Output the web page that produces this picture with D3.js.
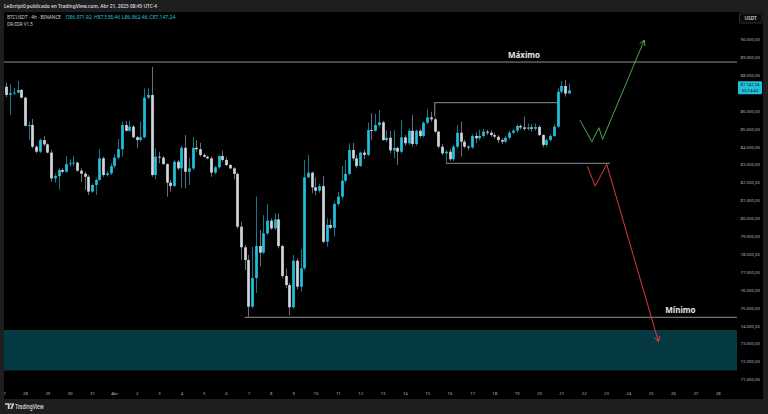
<!DOCTYPE html>
<html><head><meta charset="utf-8">
<script src="https://cdn.jsdelivr.net/npm/d3@7"></script>
<style>body{margin:0;background:#1e1e1e;overflow:hidden}svg{display:block}</style>
</head><body><svg id="c" width="768" height="414"></svg>
<script>
// ---------- DATA ----------
const firstCandle = "2025-03-27T04:00:00Z"; // 4h candles, BTCUSDT Binance
const opens = [87350,86890,86980,87020,87170,86740,85170,85210,84000,83720,84370,84130,83670,82230,82360,82700,82600,83030,83070,83110,82660,82490,82320,81490,81860,82140,83350,82420,82510,82920,83390,83860,85210,84890,85120,84530,84370,84530,86740,86890,82420,83440,83390,83030,81990,81800,83160,82790,83940,82600,82790,83940,83860,83540,83440,83350,82550,82850,83480,83260,82980,82790,82480,79530,78380,77670,75060,76660,78450,78080,79160,79870,79440,79940,78450,76780,76270,75030,77630,76180,77210,82290,82550,81730,81540,81800,78690,79630,79470,80800,81210,82100,82480,83820,83350,82920,83670,83540,84930,84890,85210,85360,84370,84500,83790,83930,83720,84520,84190,84890,84150,84890,84600,85340,85640,85530,84840,84000,83630,83720,83300,84000,84780,84280,84000,83960,84600,84470,84600,84840,84780,84650,84560,84370,84280,84500,84780,84900,85160,85080,85000,85080,85000,85100,84650,84100,84370,84600,85120,87070,87390,86971.92];
const highs = [87580,87500,87280,87670,87220,86790,85400,85550,84090,84470,84600,84190,83820,82510,82790,82790,83480,83300,83480,83160,82790,82600,82420,81950,82230,83860,83440,82650,83070,83570,84430,85400,85440,85440,85210,84600,85400,87260,87260,88470,83910,83720,83480,83070,82140,83260,83260,84040,84650,83350,84530,84370,84220,83630,83500,83440,82920,83540,83780,83410,83030,82850,82550,79810,78510,77950,78410,81210,79350,80180,80800,79990,80280,80280,78510,77200,76400,77950,77760,78270,83260,83540,82600,82290,81920,82360,80000,79940,80930,81490,82920,83260,84190,84220,83540,83720,83850,85340,85870,85830,86050,85450,84930,84880,84930,84000,85490,84650,85000,85770,84950,85000,85420,86100,85950,85640,84900,84150,83820,83880,84090,85210,85400,84390,84100,84700,84780,84950,85000,84950,84900,84780,84650,84480,84600,84900,85000,85250,85250,85680,85300,85250,85300,85200,84700,84450,84700,85250,87250,87670,87730,87538.46];
const lows = [86760,85770,86900,86980,86700,85120,84370,83910,83630,83640,84040,83630,82040,81990,81620,82510,82550,82880,82920,82600,82040,81580,81300,81430,81300,82100,82320,82330,82420,82790,83300,83440,84840,84840,84470,83910,84280,84470,86650,82320,82180,83070,82980,81210,81490,81760,82700,81680,81680,81860,82700,83720,83440,83390,83300,82320,82470,82780,83160,82920,82740,82180,79440,77670,77110,74500,74980,75830,77300,78010,79070,79350,79350,78320,76650,76090,74590,74970,76030,75900,77110,82230,81400,81300,81430,78600,78410,79390,78970,80690,81060,81990,82420,83220,82790,82880,83300,83480,84370,84840,85120,84330,84260,83630,83350,82980,83630,84050,84100,84000,84050,84500,84520,85250,85400,84780,83930,83540,83070,83200,83200,83930,83450,83910,83800,83880,84200,84350,84500,84650,84550,84450,84200,84150,84200,84400,84700,84800,84950,84900,84900,84850,84900,84600,83950,84000,84300,84550,85050,86950,86800,86962.46];
const closes = [86890,86980,87020,87170,86740,85170,85210,84000,83720,84370,84130,83670,82230,82360,82700,82600,83030,83070,83110,82660,82490,82320,81490,81860,82140,83350,82420,82510,82920,83390,83860,85210,84890,85120,84530,84370,84530,86740,86890,82420,83440,83390,83030,81990,81800,83160,82790,83940,82600,82790,83940,83860,83540,83440,83350,82550,82850,83480,83260,82980,82790,82480,79530,78380,77670,75060,76660,78450,78080,79160,79870,79440,79940,78450,76780,76270,75030,77630,76180,77210,82290,82550,81730,81540,81800,78690,79630,79470,80800,81210,82100,82480,83820,83350,82920,83670,83540,84930,84890,85210,85360,84370,84500,83790,83930,83720,84520,84190,84890,84150,84890,84600,85340,85640,85530,84840,84000,83630,83720,83300,84000,84780,84280,84000,83960,84600,84470,84600,84840,84780,84650,84560,84370,84280,84500,84780,84900,85160,85080,85000,85080,85000,85100,84650,84100,84370,84600,85120,87070,87390,86970,87147.24];

// 87.000,00 is hidden behind the last-price label in the reference
const priceTicks = [90000,89000,88000,86000,85000,84000,83000,82000,81000,80000,79000,78000,77000,76000,75000,74000,73000,72000,71000];
const dayTicks = ["2025-03-27","2025-03-28","2025-03-29","2025-03-30","2025-03-31","2025-04-01","2025-04-02","2025-04-03","2025-04-04","2025-04-05","2025-04-06","2025-04-07","2025-04-08","2025-04-09","2025-04-10","2025-04-11","2025-04-12","2025-04-13","2025-04-14","2025-04-15","2025-04-16","2025-04-17","2025-04-18","2025-04-19","2025-04-20","2025-04-21","2025-04-22","2025-04-23","2025-04-24","2025-04-25","2025-04-26","2025-04-27","2025-04-28"];
const dayLabels = ["27","28","29","30","31","Abr","2","3","4","5","6","7","8","9","10","11","12","13","14","15","16","17","18","19","20","21","22","23","24","25","26","27","28"];

// drawings (time, price)
const maxLevel = 88730;
const minLevel = 74470;
const minLevelStart = "2025-04-06T20:00:00Z";
const zone = [71500, 73760];
const rangeTop = {price: 86460, from: "2025-04-15T08:00:00Z", to: "2025-04-20T20:00:00Z", stemTo: 85700};
const rangeBottom = {price: 83070, from: "2025-04-15T20:00:00Z", to: "2025-04-23T04:24:00Z"};
const bullPath = [["2025-04-21T20:00:00Z",85490],["2025-04-22T08:48:00Z",84280],["2025-04-22T16:24:00Z",85060],["2025-04-22T20:24:00Z",84410],["2025-04-24T17:12:00Z",89960]];
const bearPath = [["2025-04-22T04:00:00Z",82920],["2025-04-22T12:24:00Z",81800],["2025-04-23T00:48:00Z",83020],["2025-04-25T08:24:00Z",73100]];
const maxLabel = {text: "Máximo", t: "2025-04-19T08:00:00Z"};
const minLabel = {text: "Mínimo", t: "2025-04-26T08:00:00Z"};
const lastPrice = 87147.24;
const countdown = "03:14:43";

// ---------- RENDER ----------
const svg = d3.select("#c");
const FONT = "'Noto Sans', 'DejaVu Sans', sans-serif";
const upCol = "#22c1db", upWick = "#12788a", dnCol = "#d1d4dc", dnWick = "#6a6d77";

const x = d3.scaleUtc().domain([new Date("2025-03-28T00:00:00Z"), new Date("2025-04-28T00:00:00Z")]).range([25, 717.7]);
const y = d3.scaleLinear().domain([71000, 90000]).range([379.4, 39.3]);

const t0 = new Date(firstCandle);
const candles = opens.map((o,k)=>({t: d3.utcHour.offset(t0, 4*k), o, h: highs[k], l: lows[k], c: closes[k]}));

svg.append("rect").attr("width",768).attr("height",414).attr("fill","#1e1e1e");
svg.append("rect").attr("x",4).attr("y",12).attr("width",759).attr("height",387).attr("fill","#000");

svg.append("defs").append("clipPath").attr("id","pc").append("rect").attr("x",4).attr("y",12).attr("width",733).attr("height",373);
const plot = svg.append("g").attr("clip-path","url(#pc)");

// zone
plot.append("rect").attr("x",4).attr("width",733).attr("y",y(zone[1])).attr("height",y(zone[0])-y(zone[1])).attr("fill","#063a43");
// level lines
plot.append("line").attr("x1",4).attr("x2",737).attr("y1",y(maxLevel)).attr("y2",y(maxLevel)).attr("stroke","#8f929b").attr("stroke-width",1);
plot.append("line").attr("x1",x(new Date(minLevelStart))).attr("x2",737).attr("y1",y(minLevel)).attr("y2",y(minLevel)).attr("stroke","#8f929b").attr("stroke-width",1);
// range box
plot.append("path").attr("d",`M${x(new Date(rangeTop.from))},${y(rangeTop.stemTo)}V${y(rangeTop.price)}H${x(new Date(rangeTop.to))}`).attr("fill","none").attr("stroke","#6e717b").attr("stroke-width",1.3);
plot.append("line").attr("x1",x(new Date(rangeBottom.from))).attr("x2",x(new Date(rangeBottom.to))).attr("y1",y(rangeBottom.price)).attr("y2",y(rangeBottom.price)).attr("stroke","#6e717b").attr("stroke-width",1.3);

// candles
plot.selectAll("line.w").data(candles).join("line").attr("class","w")
  .attr("x1",d=>Math.round(x(d.t))+0.5).attr("x2",d=>Math.round(x(d.t))+0.5)
  .attr("y1",d=>y(d.h)).attr("y2",d=>y(d.l))
  .attr("stroke",d=>d.c>=d.o?upWick:dnWick).attr("stroke-width",1);
plot.selectAll("rect.b").data(candles).join("rect").attr("class","b")
  .attr("x",d=>Math.round(x(d.t))+0.5-1.35).attr("width",2.7)
  .attr("y",d=>y(Math.max(d.o,d.c))).attr("height",d=>Math.max(0.9,Math.abs(y(d.o)-y(d.c))))
  .attr("fill",d=>d.c>=d.o?upCol:dnCol);

// scenario paths
function scenario(pts, col){
  const p = pts.map(d=>[x(new Date(d[0])), y(d[1])]);
  plot.append("path").attr("d",d3.line()(p)).attr("fill","none").attr("stroke",col).attr("stroke-width",1);
  const a = p[p.length-1], b = p[p.length-2];
  const ang = Math.atan2(a[1]-b[1], a[0]-b[0]);
  const L = 6, s = 0.5;
  const h1 = [a[0]-L*Math.cos(ang-s), a[1]-L*Math.sin(ang-s)];
  const h2 = [a[0]-L*Math.cos(ang+s), a[1]-L*Math.sin(ang+s)];
  plot.append("path").attr("d",d3.line()([h1,a,h2])).attr("fill","none").attr("stroke",col).attr("stroke-width",1);
}
scenario(bullPath, "#4aa84a");
scenario(bearPath, "#e0393e");

// labels
plot.append("text").attr("x",x(new Date(maxLabel.t))).attr("y",y(maxLevel)-4).attr("text-anchor","middle")
  .attr("font-family",FONT).attr("font-size",8).attr("font-weight",700).attr("fill","#e6e6e6").text(maxLabel.text);
plot.append("text").attr("x",x(new Date(minLabel.t))).attr("y",y(minLevel)-4).attr("text-anchor","middle")
  .attr("font-family",FONT).attr("font-size",8).attr("font-weight",700).attr("fill","#e6e6e6").text(minLabel.text);

// price axis
const loc = d3.formatLocale({decimal:",", thousands:".", grouping:[3], currency:["",""]});
const fmt = loc.format(",.2f");
const ya = svg.append("g").attr("transform","translate(740.5,0)")
  .call(d3.axisRight(y).tickValues(priceTicks).tickFormat(fmt).tickSize(0).tickPadding(0));
ya.select(".domain").remove();
ya.selectAll("text").attr("font-family",FONT).attr("font-size",4.3).attr("fill","#b2b5be");

// time axis
const xa = svg.append("g").attr("transform","translate(0,389)")
  .call(d3.axisBottom(x).tickValues(dayTicks.map(d=>new Date(d+"T00:00:00Z"))).tickFormat((d,i)=>dayLabels[i]).tickSize(0).tickPadding(3));
xa.select(".domain").remove();
xa.selectAll("text").attr("font-family",FONT).attr("font-size",4.3).attr("fill","#b2b5be");

// left frame cover (clips the first label)
svg.append("rect").attr("x",0).attr("y",12).attr("width",4).attr("height",387).attr("fill","#1e1e1e");

// current price label
const py = y(lastPrice);
svg.append("rect").attr("x",738).attr("y",py-9).attr("width",24).attr("height",13).attr("rx",1).attr("fill","#22c1db");
svg.append("text").attr("x",750).attr("y",py-4.2).attr("text-anchor","middle").attr("font-family",FONT).attr("font-size",4.2).attr("fill","#0b0b0b").text(fmt(lastPrice));
svg.append("text").attr("x",750).attr("y",py+2).attr("text-anchor","middle").attr("font-family",FONT).attr("font-size",4.2).attr("fill","#0b0b0b").text(countdown);

// USDT box
svg.append("rect").attr("x",739.5).attr("y",13).attr("width",22.5).attr("height",10).attr("rx",1.5).attr("fill","#0a0a0a").attr("stroke","#3a3d45").attr("stroke-width",0.8);
svg.append("text").attr("x",750.7).attr("y",20).attr("text-anchor","middle").attr("font-family",FONT).attr("font-size",4.8).attr("font-weight",600).attr("fill","#d1d4dc").text("USDT");

// header
svg.append("text").attr("x",4).attr("y",8.2).attr("font-family",FONT).attr("font-size",5).attr("font-weight",600).attr("fill","#d1d4dc")
  .attr("textLength",153).attr("lengthAdjust","spacingAndGlyphs").text("Le0cript0 publicado en TradingView.com, Abr 21, 2025 08:45 UTC-4");
svg.append("text").attr("x",7).attr("y",18.7).attr("font-family",FONT).attr("font-size",4.6).attr("fill","#d1d4dc")
  .attr("textLength",54).attr("lengthAdjust","spacingAndGlyphs").text("BTCUSDT · 4h · BINANCE");
const ohlc = [["O", opens[opens.length-1], 65.7],["H", highs[highs.length-1], 94],["L", lows[lows.length-1], 121.7],["C", closes[closes.length-1], 149.3]];
ohlc.forEach(d=>{
  svg.append("text").attr("x",d[2]).attr("y",18.7).attr("font-family",FONT).attr("font-size",4.6).attr("fill","#22c1db")
    .attr("textLength",26).attr("lengthAdjust","spacingAndGlyphs").text(d[0]+fmt(d[1]));
});
svg.append("text").attr("x",7).attr("y",26.4).attr("font-family",FONT).attr("font-size",4.6).attr("fill","#d1d4dc")
  .attr("textLength",26).attr("lengthAdjust","spacingAndGlyphs").text("DR/IDR V1.5");

// TradingView footer logo
const logo = svg.append("g").attr("fill","#d1d4dc");
logo.append("path").attr("d","M5,403.2H9.6V409H7.8V404.8H5Z");
logo.append("circle").attr("cx",10.9).attr("cy",404.1).attr("r",0.95);
logo.append("path").attr("d","M12.6,403.2H14.4L12.1,409H10.3Z");
svg.append("text").attr("x",15.2).attr("y",408.6).attr("font-family",FONT).attr("font-size",6.3).attr("font-weight",600).attr("fill","#d1d4dc")
  .attr("textLength",28.5).attr("lengthAdjust","spacingAndGlyphs").text("TradingView");
</script></body></html>
